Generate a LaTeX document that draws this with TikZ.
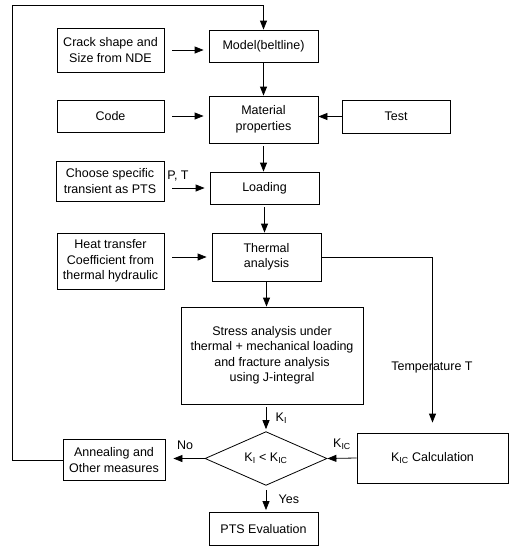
\documentclass[tikz,border=0pt]{standalone}
\usepackage{fontspec}
\setmainfont{Liberation Sans}
\usetikzlibrary{shapes.geometric,arrows.meta}
\begin{document}
\begin{tikzpicture}[x=1pt,y=-1pt,line width=.8pt,
  every node/.style={font=\fontsize{12.5}{15.5}\selectfont},
  box/.style={draw,align=center,inner sep=0pt},
  arr/.style={-{Triangle[length=9pt,width=7pt]}},
  gap/.style={shorten <=8pt,shorten >=5pt}]
\useasboundingbox (0,0) rectangle (509,547);
% left column
\node[box,minimum width=107,minimum height=44] (crack) at (110.5,50) {Crack shape and\\Size from NDE};
\node[box,minimum width=107,minimum height=32] (code) at (110.5,116) {Code};
\node[box,minimum width=108,minimum height=40] (choose) at (110,181) {Choose specific\\transient as PTS};
\node[box,minimum width=107,minimum height=56] (heat) at (110.5,261) {Heat transfer\\Coefficient from\\thermal hydraulic};
\node[box,minimum width=102,minimum height=41] (anneal) at (114,460) {Annealing and\\Other measures};
% middle column
\node[box,minimum width=109,minimum height=32] (model) at (263.5,46) {Model(beltline)};
\node[box,minimum width=109,minimum height=47] (mat) at (263.5,119.5) {Material\\properties};
\node[box,minimum width=109,minimum height=32] (load) at (264.5,188) {Loading};
\node[box,minimum width=109,minimum height=48] (therm) at (266.5,257) {Thermal\\analysis};
\node[box,minimum width=182,minimum height=97] (stress) at (272,355.5) {Stress analysis under\\thermal + mechanical loading\\and fracture analysis\\using J-integral};
\node[draw,diamond,inner sep=0pt,minimum width=122,minimum height=47] (diam) at (266,458.5) {K\textsubscript{I} < K\textsubscript{IC}};
\node[box,minimum width=109,minimum height=33] (pts) at (263.5,529) {PTS Evaluation};
% right column
\node[box,minimum width=108,minimum height=33] (test) at (396,116.5) {Test};
\node[box,minimum width=151,minimum height=50] (kic) at (432.5,458) {K\textsubscript{IC} Calculation};
\coordinate (lp) at (12,5);

\draw[arr] (model) -- (mat);
\draw[arr,shorten <=3pt] (mat.south) -- (mat.south |- load.north);
\draw[arr,shorten <=3pt] (load.south) -- (load.south |- therm.north);
\draw[arr] (therm.south) -- (therm.south |- stress.north);
\draw[arr,shorten <=3pt,shorten >=2pt] (stress.south -| diam.north) -- (diam.north) node[midway,right=6pt] {K\textsubscript{I}};
\draw[arr,shorten <=4pt,shorten >=2pt] (diam.south) -- (diam.south |- pts.north) node[midway,right=9pt] {Yes};
\draw[arr,gap] (crack.east) -- (crack.east -| model.west);
\draw[arr,gap] (code.east) -- (code.east -| mat.west);
\draw[arr,gap] (choose.east |- load) -- (load.west) node[pos=.3,above=3pt] {P, T};
\draw[arr,gap] (heat.east |- therm) -- (therm.west);
\draw[arr] (test.west) -- (test.west -| mat.east);
\draw[arr] (kic.west) -- (diam.east) node[midway,above=5pt] {K\textsubscript{IC}};
\draw[arr,shorten >=8pt] (diam.west) -- (diam.west -| anneal.east) node[midway,above=5pt] {No};
\draw[arr,shorten >=10pt] (therm.east) -| (kic.north);
\node (temp) at (432,367) {Temperature T};
\draw[arr] (anneal.west) -| (lp) -| (model.north);
\end{tikzpicture}
\end{document}
